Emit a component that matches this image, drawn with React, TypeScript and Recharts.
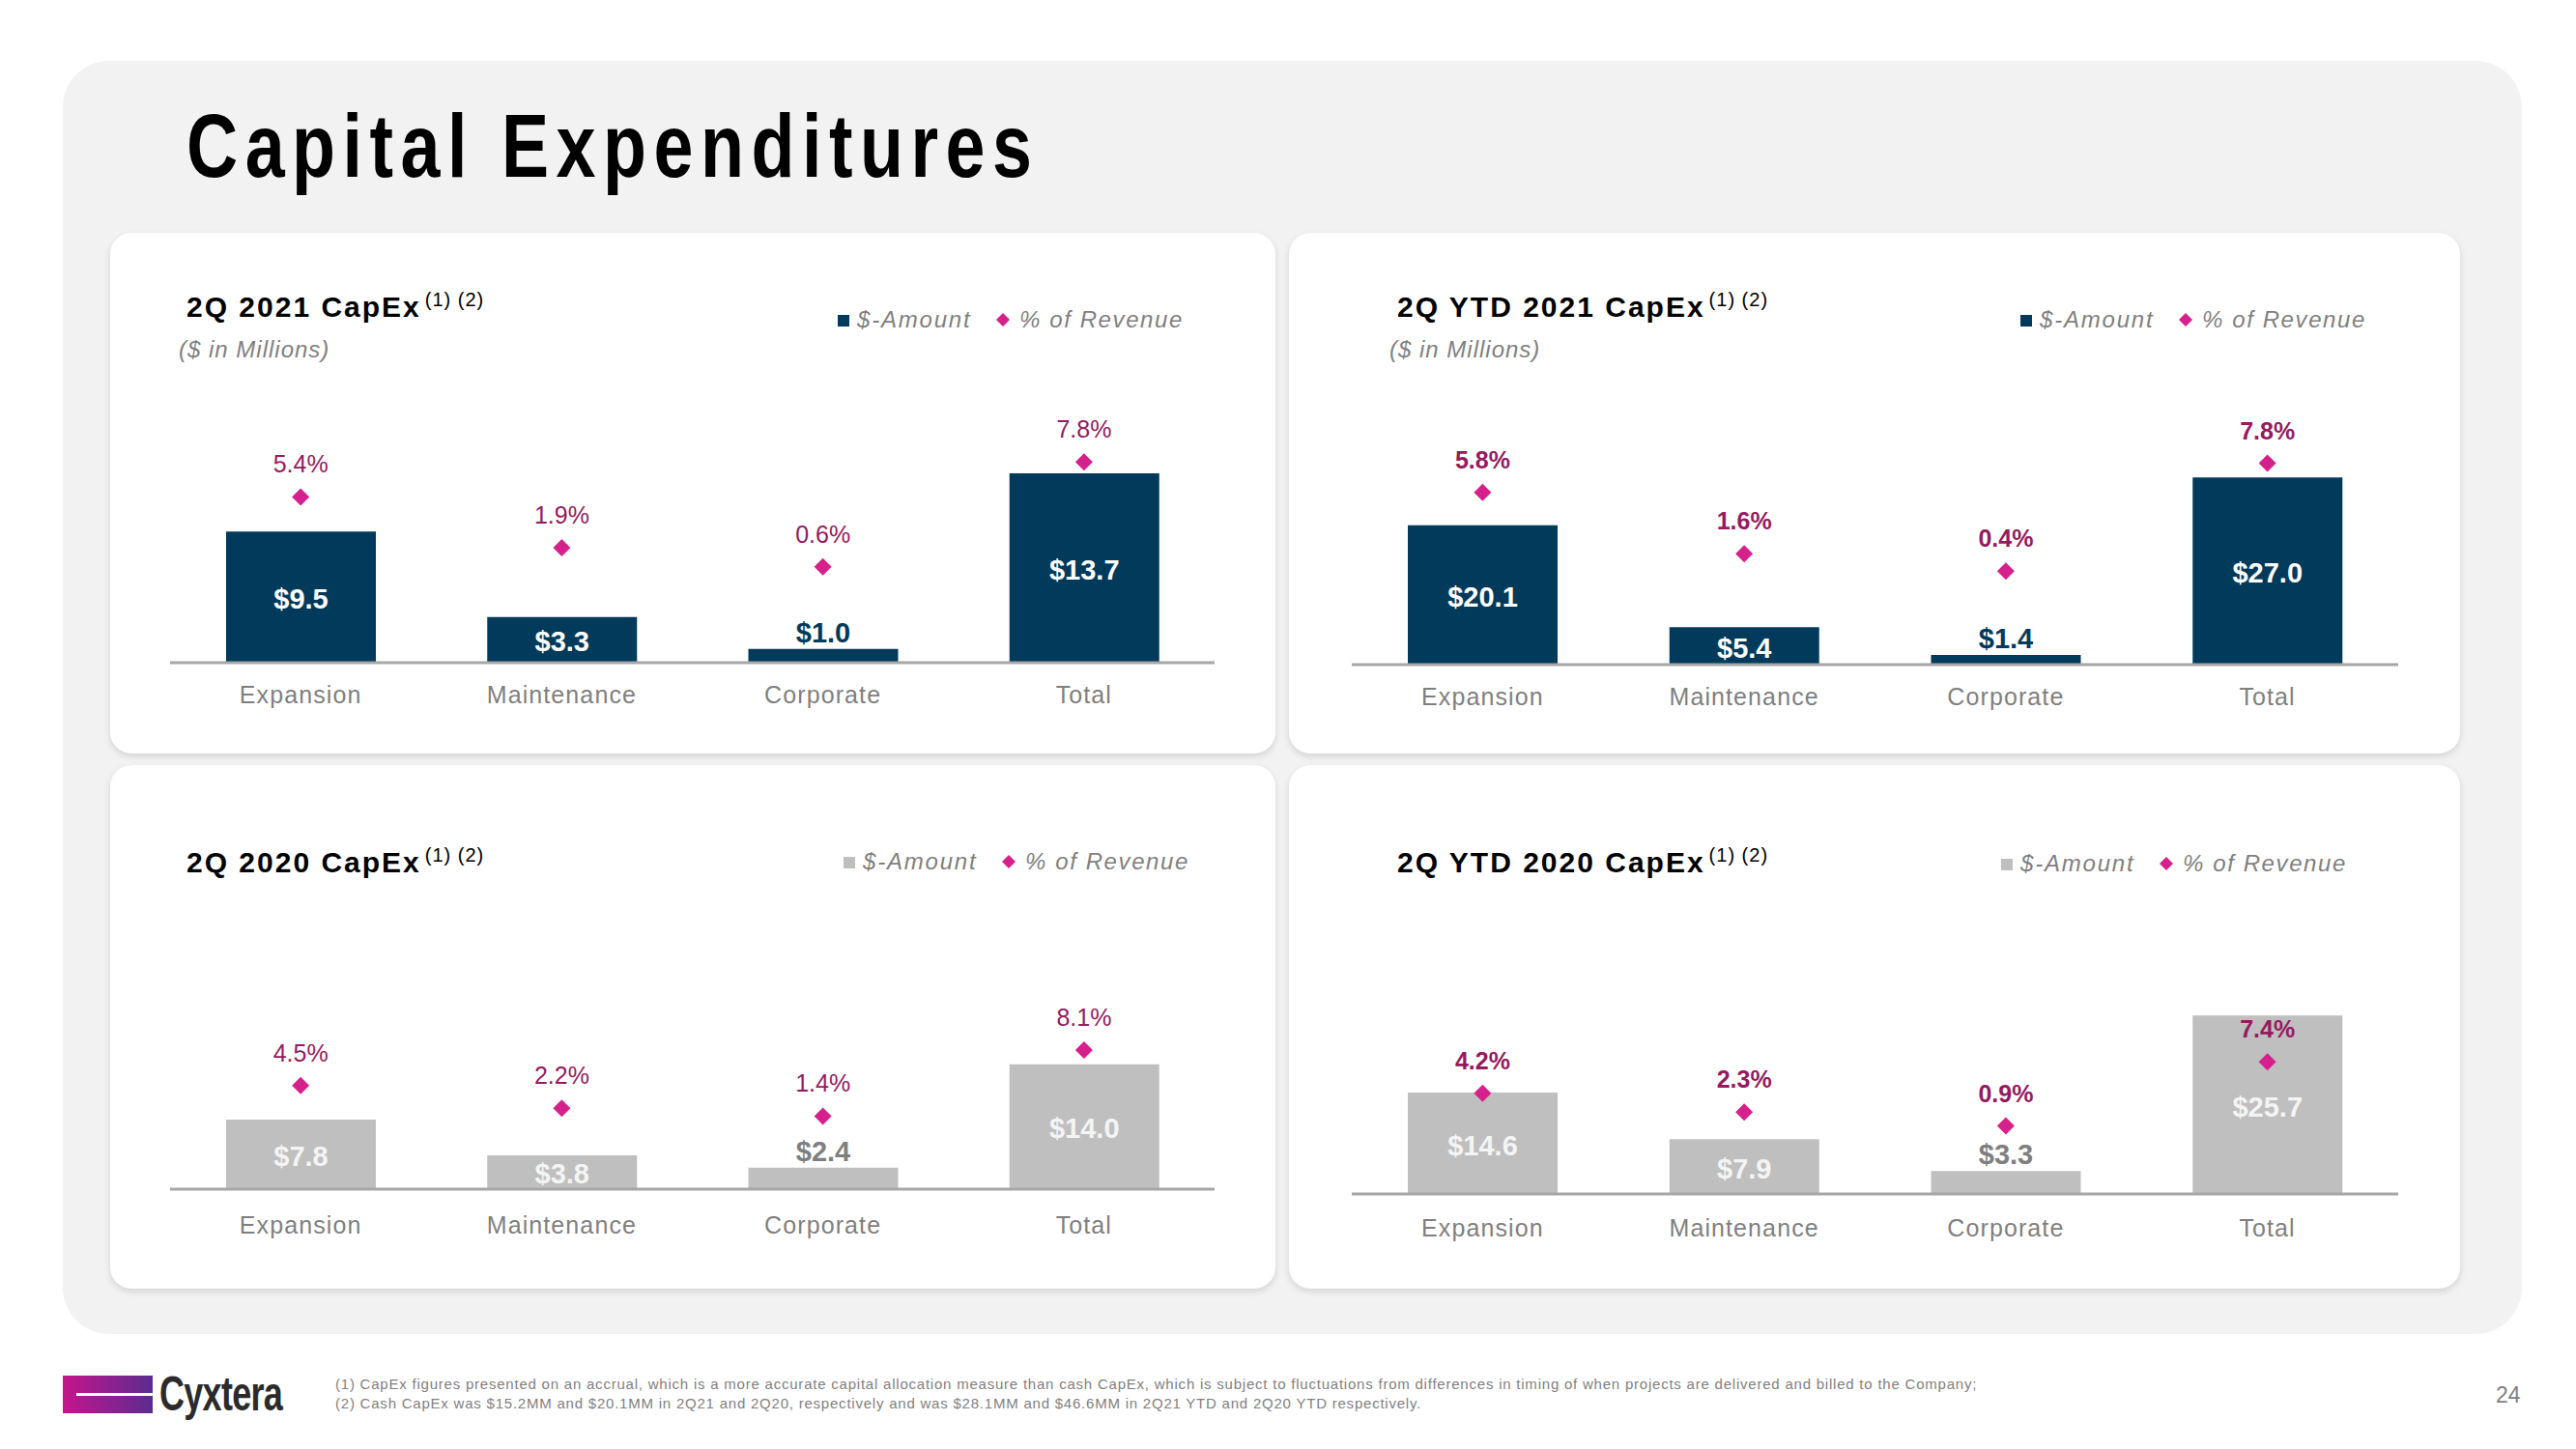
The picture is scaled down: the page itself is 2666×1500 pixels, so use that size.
import { ComposedChart, Bar, Scatter, XAxis, YAxis, LabelList } from 'recharts';

const categories = ['Expansion', 'Maintenance', 'Corporate', 'Total'];

const q2021Amount = [9.5, 3.3, 1.0, 13.7];
const q2021Pct = [5.4, 1.9, 0.6, 7.8];
const ytd2021Amount = [20.1, 5.4, 1.4, 27.0];
const ytd2021Pct = [5.8, 1.6, 0.4, 7.8];
const q2020Amount = [7.8, 3.8, 2.4, 14.0];
const q2020Pct = [4.5, 2.2, 1.4, 8.1];
const ytd2020Amount = [14.6, 7.9, 3.3, 25.7];
const ytd2020Pct = [4.2, 2.3, 0.9, 7.4];

const footnote1 =
  '(1) CapEx figures presented on an accrual, which is a more accurate capital allocation measure than cash CapEx, which is subject to fluctuations from differences in timing of when projects are delivered and billed to the Company;';
const footnote2 =
  '(2) Cash CapEx was $15.2MM and $20.1MM in 2Q21 and 2Q20, respectively and was $28.1MM and $46.6MM in 2Q21 YTD and 2Q20 YTD respectively.';

const FONT = '"Liberation Sans", Arial, sans-serif';
const NAVY = '#023a5b';
const GREY_BAR = '#bfbfbf';
const PINK = '#d6208b';
const PCT_TEXT = '#951a60';
const AXIS_GREY = '#a6a6a6';
const TEXT_GREY = '#7f7f7f';

// place html text by its baseline (lineHeight 1)
function Txt({ left, baseline, size, style, children }: any) {
  return (
    <div
      style={{
        position: 'absolute',
        left,
        top: baseline - 0.85 * size,
        fontSize: size,
        lineHeight: 1,
        whiteSpace: 'nowrap',
        fontFamily: FONT,
        ...style,
      }}
    >
      {children}
    </div>
  );
}

const renderTick = (offset: number) => (props: any) => {
  const { x, y, payload } = props;
  return (
    <text x={x} y={Number(y) + offset} textAnchor="middle" fontSize={25} fill={TEXT_GREY} letterSpacing={1.1} fontFamily={FONT}>
      {payload.value}
    </text>
  );
};

const renderAmountLabel = (outsideColor: string, insideColor: string) => (props: any) => {
  const x = Number(props.x);
  const y = Number(props.y);
  const width = Number(props.width);
  const height = Number(props.height);
  const small = height < 28;
  return (
    <text
      x={x + width / 2}
      y={small ? y - 7 : y + height / 2 + 12}
      textAnchor="middle"
      fontSize={29}
      fontWeight="bold"
      fontFamily={FONT}
      fill={small ? outsideColor : insideColor}
    >
      {'$' + Number(props.value).toFixed(1)}
    </text>
  );
};

const renderDiamond = (bold: boolean) => (props: any) => {
  const { cx, cy, payload } = props;
  return (
    <g>
      <path d={`M${cx},${cy - 9}L${cx + 9},${cy}L${cx},${cy + 9}L${cx - 9},${cy}Z`} fill={PINK} />
      <text
        x={cx}
        y={cy - 25}
        textAnchor="middle"
        fontSize={25}
        fontWeight={bold ? 'bold' : 'normal'}
        fontFamily={FONT}
        fill={PCT_TEXT}
      >
        {payload.pct.toFixed(1) + '%'}
      </text>
    </g>
  );
};

type PanelProps = {
  left: number;
  top: number;
  width: number;
  height: number;
  title: string;
  subtitle?: string;
  amount: number[];
  pct: number[];
  amountMax: number;
  barColor: string;
  outsideColor: string;
  insideColor: string;
  pctBold: boolean;
  margin: { top: number; right: number; bottom: number; left: number };
  titleLeft: number;
  titleBaseline: number;
  legendLeft: number;
  legendBaseline: number;
  tickOffset: number;
};

function CapexPanel(p: PanelProps) {
  const data = categories.map((name, i) => ({ name, amount: p.amount[i], pct: p.pct[i] }));
  return (
    <div
      style={{
        position: 'absolute',
        left: p.left,
        top: p.top,
        width: p.width,
        height: p.height,
        background: '#ffffff',
        borderRadius: 22,
        boxShadow: '0 3px 7px rgba(0,0,0,0.13)',
      }}
    >
      <Txt left={p.titleLeft} baseline={p.titleBaseline} size={30} style={{ fontWeight: 'bold', letterSpacing: 2, color: '#000' }}>
        {p.title}
        <span style={{ fontSize: 20, fontWeight: 'normal', position: 'relative', top: -11, marginLeft: 4, letterSpacing: 1 }}>(1) (2)</span>
      </Txt>
      {p.subtitle && (
        <Txt left={p.titleLeft - 8} baseline={p.titleBaseline + 42} size={24} style={{ fontStyle: 'italic', letterSpacing: 1, color: TEXT_GREY }}>
          {p.subtitle}
        </Txt>
      )}
      <div
        style={{ position: 'absolute', left: p.legendLeft, top: p.legendBaseline - 13, width: 12, height: 12, background: p.barColor }}
      />
      <Txt left={p.legendLeft + 20} baseline={p.legendBaseline} size={24} style={{ fontStyle: 'italic', letterSpacing: 1.8, color: TEXT_GREY }}>
        $-Amount
      </Txt>
      <svg style={{ position: 'absolute', left: p.legendLeft + 163, top: p.legendBaseline - 16 }} width={16} height={16}>
        <path d="M8,1L15,8L8,15L1,8Z" fill={PINK} />
      </svg>
      <Txt left={p.legendLeft + 188} baseline={p.legendBaseline} size={24} style={{ fontStyle: 'italic', letterSpacing: 1.6, color: TEXT_GREY }}>
        % of Revenue
      </Txt>
      <div style={{ position: 'absolute', left: 0, top: 0 }}>
        <ComposedChart width={p.width} height={p.height} data={data} margin={p.margin}>
          <XAxis
            dataKey="name"
            interval={0}
            height={60}
            tickLine={false}
            tickSize={0}
            tickMargin={0}
            axisLine={{ stroke: AXIS_GREY, strokeWidth: 3 }}
            tick={renderTick(p.tickOffset)}
          />
          <YAxis yAxisId="amt" hide domain={[0, p.amountMax]} allowDataOverflow />
          <YAxis yAxisId="pct" orientation="right" hide domain={[-6, 13]} allowDataOverflow />
          <Bar dataKey="amount" yAxisId="amt" fill={p.barColor} barSize={155} isAnimationActive={false}>
            <LabelList dataKey="amount" content={renderAmountLabel(p.outsideColor, p.insideColor)} />
          </Bar>
          <Scatter dataKey="pct" yAxisId="pct" fill={PINK} shape={renderDiamond(p.pctBold)} isAnimationActive={false} />
        </ComposedChart>
      </div>
    </div>
  );
}

export default function App() {
  return (
    <div style={{ position: 'absolute', left: 0, top: 0, width: 2666, height: 1500, background: '#ffffff', fontFamily: FONT, overflow: 'hidden' }}>
      <div style={{ position: 'absolute', left: 65, top: 63, width: 2545, height: 1318, background: '#f2f2f2', borderRadius: 48 }} />
      <Txt
        left={193}
        baseline={183}
        size={92}
        style={{ fontWeight: 'bold', color: '#000', letterSpacing: 9.4, transform: 'scaleX(0.8)', transformOrigin: 'left center' }}
      >
        Capital Expenditures
      </Txt>

      <CapexPanel
        left={114}
        top={241}
        width={1206}
        height={539}
        title="2Q 2021 CapEx"
        subtitle="($ in Millions)"
        amount={q2021Amount}
        pct={q2021Pct}
        amountMax={20}
        barColor={NAVY}
        outsideColor={NAVY}
        insideColor="#ffffff"
        pctBold={false}
        margin={{ top: 159, right: 63, bottom: 34, left: 62 }}
        titleLeft={79}
        titleBaseline={87}
        legendLeft={753}
        legendBaseline={98}
        tickOffset={42}
      />
      <CapexPanel
        left={1334}
        top={241}
        width={1212}
        height={539}
        title="2Q YTD 2021 CapEx"
        subtitle="($ in Millions)"
        amount={ytd2021Amount}
        pct={ytd2021Pct}
        amountMax={40}
        barColor={NAVY}
        outsideColor={NAVY}
        insideColor="#ffffff"
        pctBold={true}
        margin={{ top: 160, right: 64, bottom: 32, left: 65 }}
        titleLeft={112}
        titleBaseline={87}
        legendLeft={757}
        legendBaseline={98}
        tickOffset={42}
      />
      <CapexPanel
        left={114}
        top={792}
        width={1206}
        height={542}
        title="2Q 2020 CapEx"
        amount={q2020Amount}
        pct={q2020Pct}
        amountMax={21}
        barColor={GREY_BAR}
        outsideColor={TEXT_GREY}
        insideColor="#f4f4f4"
        pctBold={false}
        margin={{ top: 245, right: 63, bottom: 43, left: 62 }}
        titleLeft={79}
        titleBaseline={111}
        legendLeft={759}
        legendBaseline={108}
        tickOffset={46}
      />
      <CapexPanel
        left={1334}
        top={792}
        width={1212}
        height={542}
        title="2Q YTD 2020 CapEx"
        amount={ytd2020Amount}
        pct={ytd2020Pct}
        amountMax={27}
        barColor={GREY_BAR}
        outsideColor={TEXT_GREY}
        insideColor="#f4f4f4"
        pctBold={true}
        margin={{ top: 250, right: 64, bottom: 38, left: 65 }}
        titleLeft={112}
        titleBaseline={111}
        legendLeft={737}
        legendBaseline={110}
        tickOffset={44}
      />

      <div
        style={{ position: 'absolute', left: 65, top: 1424, width: 93, height: 39, background: 'linear-gradient(90deg, #c4168a 0%, #8a2290 55%, #5a2c8e 100%)' }}
      />
      <div style={{ position: 'absolute', left: 79, top: 1442, width: 79, height: 3, background: '#ffffff' }} />
      <Txt
        left={165}
        baseline={1460}
        size={50}
        style={{ fontWeight: 'bold', color: '#2b2b2b', letterSpacing: -1, transform: 'scaleX(0.72)', transformOrigin: 'left center' }}
      >
        Cyxtera
      </Txt>
      <Txt left={347} baseline={1438} size={15} style={{ color: TEXT_GREY, letterSpacing: 0.78 }}>
        {footnote1}
      </Txt>
      <Txt left={347} baseline={1458} size={15} style={{ color: TEXT_GREY, letterSpacing: 0.78 }}>
        {footnote2}
      </Txt>
      <Txt left={2583} baseline={1453} size={23} style={{ color: TEXT_GREY }}>
        24
      </Txt>
    </div>
  );
}
